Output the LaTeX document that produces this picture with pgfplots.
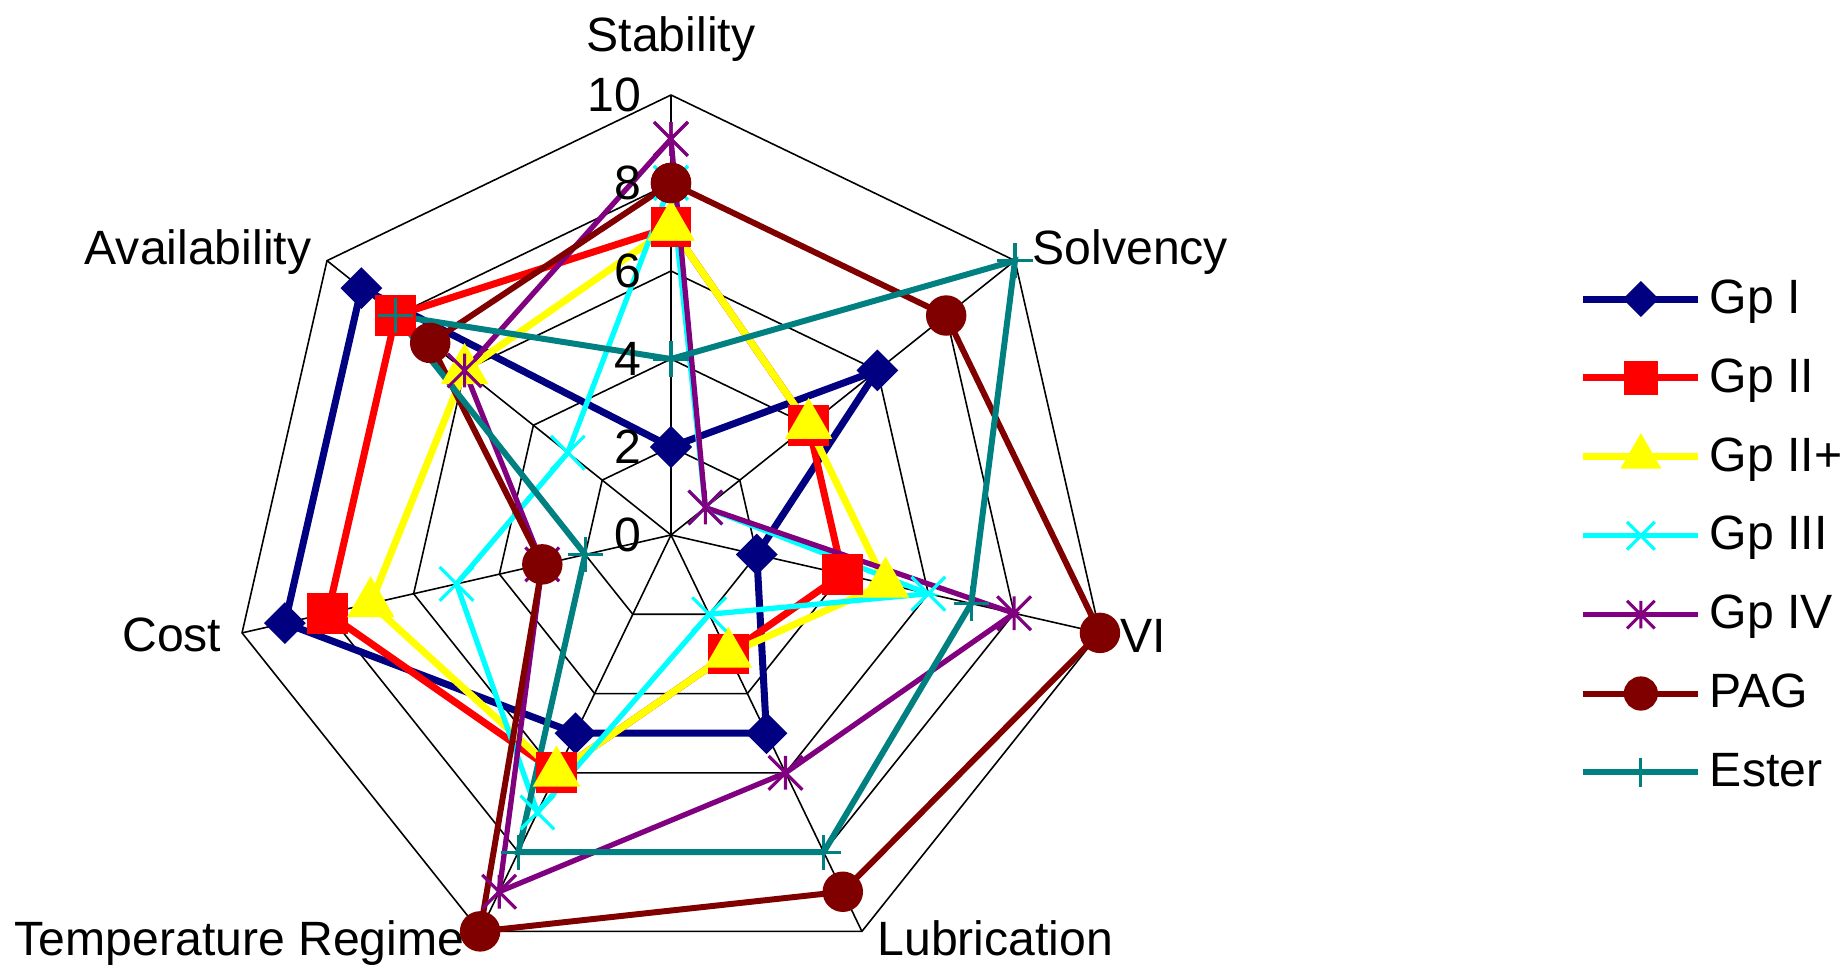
\documentclass[border=0pt]{standalone}
\usepackage{fontspec}
\setmainfont{Liberation Sans}
\usepackage{pgfplots}
\pgfplotsset{compat=1.18}
\usepackage{pgfplotstable}
\usepgfplotslibrary{polar}

\definecolor{cNavy}{RGB}{0,0,128}
\definecolor{cRed}{RGB}{255,0,0}
\definecolor{cYellow}{RGB}{255,255,0}
\definecolor{cCyan}{RGB}{0,255,255}
\definecolor{cPurple}{RGB}{128,0,128}
\definecolor{cBrown}{RGB}{128,0,0}
\definecolor{cTeal}{RGB}{0,128,128}

\pgfdeclareplotmark{xmk}{%
  \pgfpathmoveto{\pgfqpoint{-\pgfplotmarksize}{-\pgfplotmarksize}}%
  \pgfpathlineto{\pgfqpoint{\pgfplotmarksize}{\pgfplotmarksize}}%
  \pgfpathmoveto{\pgfqpoint{-\pgfplotmarksize}{\pgfplotmarksize}}%
  \pgfpathlineto{\pgfqpoint{\pgfplotmarksize}{-\pgfplotmarksize}}%
  \pgfusepathqstroke}
\pgfdeclareplotmark{xstar}{%
  \pgfpathmoveto{\pgfqpoint{-\pgfplotmarksize}{-\pgfplotmarksize}}%
  \pgfpathlineto{\pgfqpoint{\pgfplotmarksize}{\pgfplotmarksize}}%
  \pgfpathmoveto{\pgfqpoint{-\pgfplotmarksize}{\pgfplotmarksize}}%
  \pgfpathlineto{\pgfqpoint{\pgfplotmarksize}{-\pgfplotmarksize}}%
  \pgfpathmoveto{\pgfqpoint{0pt}{-\pgfplotmarksize}}%
  \pgfpathlineto{\pgfqpoint{0pt}{\pgfplotmarksize}}%
  \pgfusepathqstroke}
\pgfdeclareplotmark{pmk}{%
  \pgfpathmoveto{\pgfqpoint{-\pgfplotmarksize}{0pt}}%
  \pgfpathlineto{\pgfqpoint{\pgfplotmarksize}{0pt}}%
  \pgfpathmoveto{\pgfqpoint{0pt}{-\pgfplotmarksize}}%
  \pgfpathlineto{\pgfqpoint{0pt}{\pgfplotmarksize}}%
  \pgfusepathqstroke}

% angle: Stability, Solvency, VI, Lubrication, Temperature Regime, Cost, Availability, (closing)
\pgfplotstableread{
ang      gpI gpII gpIIp gpIII gpIV pag ester
90       2   7    7     8     9    8   4
38.5714  6   4    4     1     1    8   10
347.1429 2   4    5     6     8    10  7
295.7143 5   3    3     2     6    9   8
244.2857 5   6    6     7     9    10  8
192.8571 9   8    7     5     3    3   2
141.4286 9   8    6     3     6    7   8
90       2   7    7     8     9    8   4
}\datatable

\newcommand{\lblfont}{\fontsize{13.7}{16}\selectfont}

\begin{document}
\begin{tikzpicture}
\path[use as bounding box] (0,0) rectangle (18.47cm,9.65cm);
\begin{polaraxis}[
  at={(6.71cm,4.30cm)}, anchor=center,
  scale only axis, width=8.8cm, height=8.8cm,
  xmin=0, xmax=360, ymin=0, ymax=10,
  xtick=\empty, ytick=\empty,
  axis line style={draw=none},
  clip=false,
  gridline/.style={black, line width=0.45pt, forget plot},
  legend style={draw=none, fill=none, at={(1.532,0.791)}, anchor=north west,
    font=\lblfont, row sep=0.40cm, column sep=0.08cm, inner sep=0pt,
    nodes={inner sep=0pt}},
  legend cell align=left,
  legend image code/.code={%
    \draw[mark repeat=2,mark phase=2,#1,every mark/.append style={scale=0.82}] plot coordinates {(0cm,0cm) (0.575cm,0cm) (1.15cm,0cm)};},
]
% grid heptagons
\pgfplotsinvokeforeach{2,4,6,8,10}{
  \addplot[gridline] coordinates {(90,#1) (38.5714,#1) (347.1429,#1) (295.7143,#1) (244.2857,#1) (192.8571,#1) (141.4286,#1) (90,#1)};
}
% spokes
\pgfplotsinvokeforeach{90,38.5714,347.1429,295.7143,244.2857,192.8571,141.4286}{
  \addplot[gridline] coordinates {(#1,0) (#1,10)};
}
% series
\addplot[cNavy, line width=2pt, mark=square*, mark size=3.2pt, mark options={rotate=45, fill=cNavy, draw=cNavy, solid}] table[x=ang, y=gpI] {\datatable};
\addlegendentry{Gp I}
\addplot[cRed, line width=2pt, mark=square*, mark size=4.8pt, mark options={fill=cRed, draw=cRed, solid}] table[x=ang, y=gpII] {\datatable};
\addlegendentry{Gp II}
\addplot[cYellow, line width=2pt, mark=triangle*, mark size=5.8pt, mark options={fill=cYellow, draw=cYellow, solid}] table[x=ang, y=gpIIp] {\datatable};
\addlegendentry{Gp II+}
\addplot[cCyan, line width=1.5pt, mark=xmk, mark size=4.8pt, mark options={draw=cCyan, line width=0.9pt, solid}] table[x=ang, y=gpIII] {\datatable};
\addlegendentry{Gp III}
\addplot[cPurple, line width=1.5pt, mark=xstar, mark size=4.8pt, mark options={draw=cPurple, line width=0.9pt, solid}] table[x=ang, y=gpIV] {\datatable};
\addlegendentry{Gp IV}
\addplot[cBrown, line width=1.7pt, mark=*, mark size=4.9pt, mark options={fill=cBrown, draw=cBrown, solid}] table[x=ang, y=pag] {\datatable};
\addlegendentry{PAG}
\addplot[cTeal, line width=1.7pt, mark=pmk, mark size=5.0pt, mark options={draw=cTeal, line width=0.9pt, solid}] table[x=ang, y=ester] {\datatable};
\addlegendentry{Ester}
% radial tick labels
\pgfplotsinvokeforeach{0,2,4,6,8,10}{
  \node[anchor=east, inner sep=0pt, xshift=-0.29cm, font=\lblfont] at (axis cs:90,#1) {#1};
}
% category labels
\node[anchor=base, inner sep=0pt, yshift=0.43cm, font=\lblfont] at (axis cs:90,10) {Stability};
\node[anchor=base west, inner sep=0pt, xshift=0.17cm, yshift=-0.04cm, font=\lblfont] at (axis cs:38.5714,10) {Solvency};
\node[anchor=base west, inner sep=0pt, xshift=0.20cm, yshift=-0.20cm, font=\lblfont] at (axis cs:347.1429,10) {VI};
\node[anchor=base west, inner sep=0pt, xshift=0.15cm, yshift=-0.24cm, font=\lblfont] at (axis cs:295.7143,10) {Lubrication};
\node[anchor=base east, inner sep=0pt, xshift=-0.15cm, yshift=-0.24cm, font=\lblfont] at (axis cs:244.2857,10) {Temperature Regime};
\node[anchor=base east, inner sep=0pt, xshift=-0.20cm, yshift=-0.19cm, font=\lblfont] at (axis cs:192.8571,10) {Cost};
\node[anchor=base east, inner sep=0pt, xshift=-0.15cm, yshift=-0.04cm, font=\lblfont] at (axis cs:141.4286,10) {Availability};
\end{polaraxis}
\end{tikzpicture}
\end{document}
